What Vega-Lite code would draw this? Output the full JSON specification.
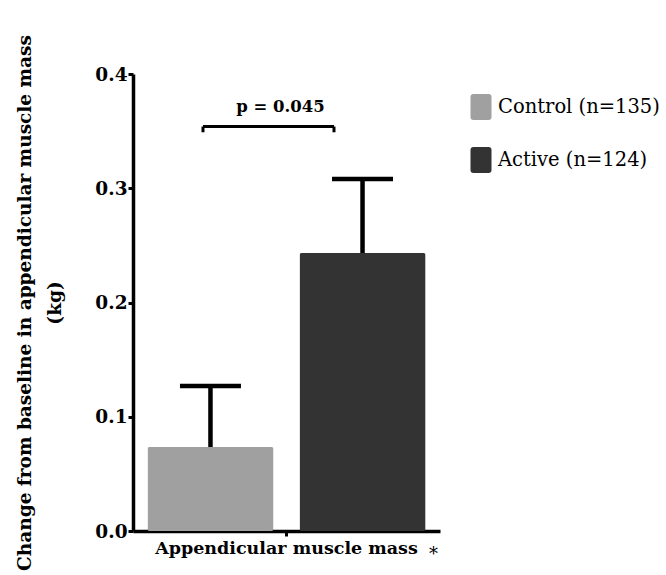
{
  "$schema": "https://vega.github.io/schema/vega-lite/v6.json",
  "width": 307,
  "height": 457,
  "autosize": {"type": "none"},
  "padding": {"left": 133, "top": 74, "right": 226, "bottom": 44},
  "config": {"view": {"stroke": null}, "font": "DejaVu Serif"},
  "layer": [
    {
      "data": {"values": [
        {"measure": "Appendicular muscle mass", "group": "Control (n=135)", "mean": 0.0735, "upper": 0.127},
        {"measure": "Appendicular muscle mass", "group": "Active (n=124)", "mean": 0.2433, "upper": 0.308}
      ]},
      "encoding": {
        "x": {
          "field": "measure", "type": "nominal",
          "scale": {"paddingInner": 0, "paddingOuter": 0},
          "axis": {
            "title": "*", "titleFont": "DejaVu Serif", "titleFontWeight": "normal", "titleFontSize": 18, "titleColor": "black",
            "titleX": 300, "titleY": 28, "titleAlign": "center", "titleBaseline": "alphabetic",
            "labelAngle": 0, "labelFont": "DejaVu Serif", "labelFontWeight": "bold", "labelFontSize": 17.5, "labelColor": "black", "labelPadding": 3, "labelLimit": 0,
            "tickSize": 5, "tickWidth": 3, "tickColor": "black",
            "domainWidth": 3.5, "domainColor": "black", "grid": false
          }
        },
        "xOffset": {
          "field": "group", "type": "nominal", "sort": ["Control (n=135)", "Active (n=124)"],
          "scale": {"paddingInner": 0.171, "paddingOuter": 0.095}
        }
      },
      "layer": [
        {
          "mark": {"type": "bar", "cornerRadius": 2},
          "encoding": {
            "y": {
              "field": "mean", "type": "quantitative",
              "scale": {"domain": [0, 0.4], "nice": false, "zero": true},
              "axis": {
                "values": [0, 0.1, 0.2, 0.3, 0.4], "format": ".1f",
                "title": ["Change from baseline in appendicular muscle mass", "(kg)"],
                "titleFont": "DejaVu Serif", "titleFontWeight": "bold", "titleFontSize": 18.5, "titleColor": "black",
                "titleLineHeight": 30, "titlePadding": 30,
                "labelFont": "DejaVu Serif", "labelFontWeight": "bold", "labelFontSize": 18.5, "labelColor": "black", "labelPadding": 1,
                "tickSize": 5, "tickWidth": 3, "tickColor": "black",
                "domainWidth": 3.5, "domainColor": "black", "grid": false
              }
            },
            "color": {
              "field": "group", "type": "nominal", "sort": ["Control (n=135)", "Active (n=124)"],
              "scale": {"range": ["#a0a0a0", "#333333"]},
              "legend": {
                "title": null, "orient": "none", "legendX": 335, "legendY": 20,
                "symbolType": "M-0.808,-0.77Q-0.808,-1,-0.578,-1L0.578,-1Q0.808,-1,0.808,-0.77L0.808,0.77Q0.808,1,0.578,1L-0.578,1Q-0.808,1,-0.808,0.77Z",
                "symbolSize": 676, "symbolStrokeWidth": 0, "symbolOpacity": 1,
                "labelFont": "DejaVu Serif", "labelFontSize": 19.5, "labelColor": "black", "labelLimit": 0,
                "rowPadding": 27, "labelOffset": 4, "padding": 0
              }
            }
          }
        },
        {
          "mark": {"type": "rule", "strokeWidth": 4.5, "color": "black", "opacity": 1},
          "encoding": {
            "y": {"field": "mean", "type": "quantitative"},
            "y2": {"field": "upper"}
          }
        },
        {
          "mark": {"type": "tick", "thickness": 4.5, "size": 61, "color": "black", "opacity": 1},
          "encoding": {
            "y": {"field": "upper", "type": "quantitative"}
          }
        }
      ]
    },
    {
      "data": {"values": [
        {"from": "Control", "to": "Active", "y": 0.354, "yEnd": 0.349, "p": "p = 0.045", "py": 0.3667}
      ]},
      "layer": [
        {
          "mark": {"type": "rule", "strokeWidth": 3, "color": "black"},
          "encoding": {
            "x": {"field": "from", "type": "nominal", "scale": {"type": "point", "domain": ["Control", "Active"], "padding": 0.6718, "align": 0.3977}, "axis": null},
            "x2": {"field": "to"},
            "y": {"field": "y", "type": "quantitative"}
          }
        },
        {
          "mark": {"type": "rule", "strokeWidth": 3, "color": "black"},
          "encoding": {
            "x": {"field": "from", "type": "nominal", "axis": null},
            "y": {"field": "y", "type": "quantitative"},
            "y2": {"field": "yEnd"}
          }
        },
        {
          "mark": {"type": "rule", "strokeWidth": 3, "color": "black"},
          "encoding": {
            "x": {"field": "to", "type": "nominal", "axis": null},
            "y": {"field": "y", "type": "quantitative"},
            "y2": {"field": "yEnd"}
          }
        },
        {
          "mark": {"type": "text", "font": "DejaVu Serif", "fontWeight": "bold", "fontSize": 16.5, "color": "black", "baseline": "alphabetic", "align": "center", "dx": -6},
          "encoding": {
            "y": {"field": "py", "type": "quantitative"},
            "text": {"field": "p"}
          }
        }
      ]
    }
  ],
  "resolve": {"scale": {"x": "independent"}}
}
